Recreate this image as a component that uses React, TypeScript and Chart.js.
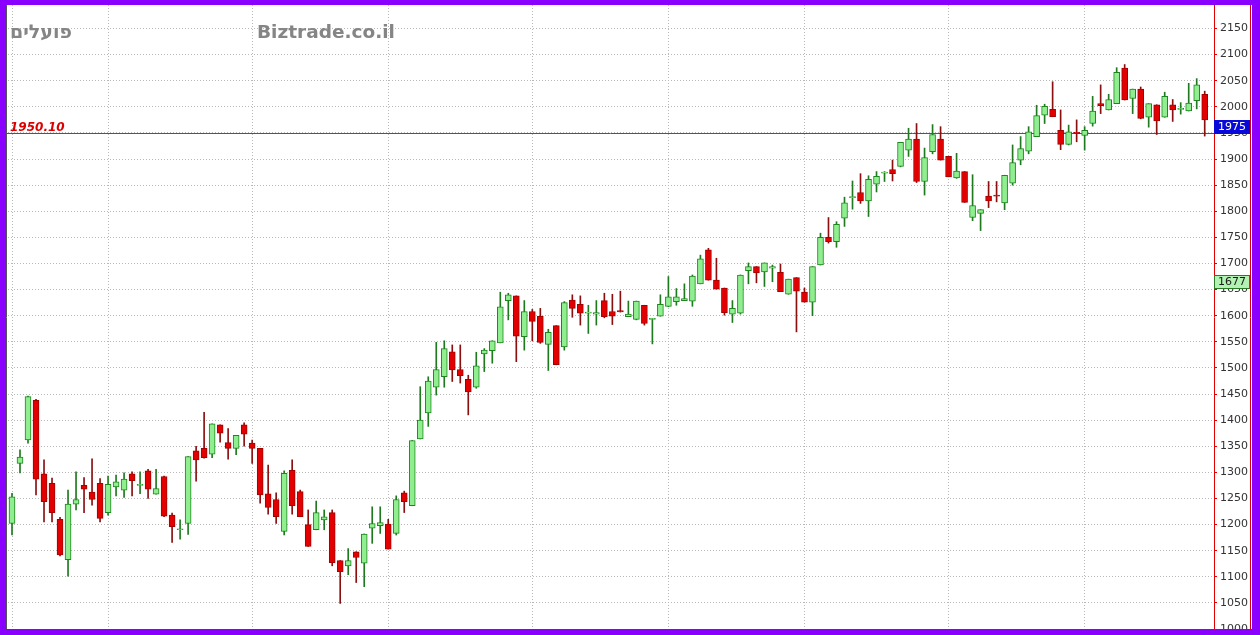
import React, { useEffect, useRef } from "react";
import { Chart, registerables } from "chart.js";

Chart.register(...registerables);

// ---- data ----
const opens = [
  1202, 1317, 1362, 1438, 1297, 1279, 1210, 1133, 1239, 1275,
  1262, 1279, 1223, 1272, 1266, 1297, 1275, 1303, 1258, 1292,
  1218, 1190, 1202, 1341, 1346, 1335, 1391, 1357, 1346, 1391,
  1356, 1346, 1259, 1248, 1187, 1304, 1263, 1200, 1190, 1209,
  1223, 1131, 1121, 1148, 1126, 1193, 1198, 1201, 1183, 1261,
  1236, 1364, 1414, 1463, 1483, 1531, 1497, 1478, 1463, 1527,
  1533, 1548, 1629, 1638, 1560, 1608, 1599, 1545, 1581, 1540,
  1630, 1622, 1605, 1603, 1629, 1608, 1610, 1598, 1593, 1620,
  1593, 1599, 1618, 1627, 1629, 1628, 1661, 1726, 1668, 1653,
  1603, 1605, 1686, 1694, 1684, 1691, 1683, 1641, 1673, 1645,
  1626, 1697, 1750, 1742, 1787, 1826, 1836, 1820, 1852, 1873,
  1880, 1886, 1917, 1938, 1857, 1914, 1938, 1905, 1864, 1876,
  1788, 1796, 1829, 1831, 1816, 1854, 1898, 1915, 1943, 1984,
  1995, 1955, 1928, 1951, 1945, 1968, 2006, 1994, 2006, 2074,
  2016, 2034, 1980, 2004, 1980, 2004, 1995, 1992, 2012, 2024,
];
const highs = [
  1260, 1343, 1446, 1440, 1324, 1289, 1214, 1266, 1301, 1290,
  1326, 1288, 1293, 1295, 1299, 1301, 1301, 1306, 1306, 1293,
  1222, 1209, 1330, 1350, 1415, 1393, 1391, 1384, 1371, 1395,
  1362, 1346, 1314, 1261, 1303, 1324, 1266, 1228, 1245, 1228,
  1228, 1131, 1154, 1148, 1182, 1234, 1234, 1210, 1255, 1264,
  1361, 1464, 1483, 1549, 1552, 1544, 1544, 1486, 1530, 1537,
  1552, 1645, 1643, 1638, 1629, 1612, 1614, 1574, 1581, 1627,
  1640, 1638, 1620, 1629, 1643, 1641, 1647, 1628, 1628, 1620,
  1595, 1640, 1675, 1652, 1661, 1678, 1716, 1729, 1710, 1653,
  1629, 1678, 1701, 1694, 1701, 1697, 1699, 1670, 1673, 1653,
  1694, 1758, 1788, 1780, 1827, 1858, 1872, 1868, 1876, 1876,
  1898, 1932, 1959, 1968, 1921, 1966, 1962, 1905, 1911, 1876,
  1870, 1803, 1857, 1857, 1869, 1927, 1943, 1962, 2003, 2005,
  2048, 1994, 1965, 1975, 1962, 2020, 2042, 2024, 2075, 2081,
  2034, 2038, 2006, 2004, 2028, 2014, 2008, 2045, 2054, 2030,
];
const lows = [
  1180, 1299, 1356, 1257, 1205, 1205, 1140, 1101, 1228, 1223,
  1237, 1205, 1218, 1255, 1252, 1255, 1259, 1250, 1258, 1215,
  1166, 1172, 1181, 1283, 1327, 1328, 1358, 1325, 1334, 1350,
  1317, 1241, 1220, 1202, 1180, 1220, 1215, 1158, 1190, 1190,
  1121, 1049, 1104, 1089, 1081, 1164, 1183, 1153, 1180, 1223,
  1236, 1364, 1388, 1448, 1463, 1474, 1471, 1410, 1461, 1493,
  1509, 1548, 1592, 1512, 1534, 1552, 1547, 1495, 1506, 1534,
  1597, 1582, 1566, 1582, 1596, 1583, 1607, 1598, 1592, 1582,
  1546, 1599, 1617, 1620, 1629, 1618, 1661, 1668, 1651, 1601,
  1587, 1603, 1661, 1663, 1656, 1665, 1646, 1641, 1569, 1626,
  1600, 1697, 1739, 1731, 1771, 1804, 1815, 1790, 1837, 1857,
  1858, 1885, 1905, 1855, 1831, 1910, 1898, 1866, 1863, 1817,
  1782, 1763, 1807, 1818, 1803, 1850, 1889, 1910, 1943, 1968,
  1981, 1918, 1927, 1933, 1917, 1963, 1987, 1994, 2006, 2013,
  1987, 1977, 1961, 1947, 1980, 1972, 1986, 1992, 1996, 1944,
];
const closes = [
  1253, 1329, 1445, 1287, 1244, 1223, 1142, 1239, 1248, 1268,
  1248, 1212, 1277, 1282, 1287, 1284, 1277, 1268, 1269, 1216,
  1196, 1192, 1330, 1324, 1328, 1393, 1375, 1346, 1371, 1373,
  1346, 1257, 1233, 1215, 1298, 1236, 1215, 1158, 1223, 1215,
  1127, 1110, 1131, 1137, 1182, 1202, 1204, 1153, 1248, 1244,
  1361, 1400, 1475, 1497, 1537, 1496, 1485, 1454, 1504, 1534,
  1552, 1617, 1640, 1561, 1608, 1589, 1549, 1568, 1506, 1625,
  1614, 1605, 1607, 1606, 1598, 1599, 1607, 1603, 1628, 1585,
  1595, 1622, 1636, 1636, 1633, 1676, 1709, 1668, 1651, 1606,
  1614, 1678, 1694, 1682, 1701, 1694, 1646, 1670, 1647, 1626,
  1694, 1750, 1742, 1775, 1816, 1828, 1820, 1861, 1867, 1875,
  1872, 1932, 1938, 1857, 1903, 1947, 1898, 1866, 1877, 1817,
  1811, 1803, 1820, 1829, 1869, 1893, 1920, 1952, 1983, 2001,
  1981, 1928, 1952, 1949, 1955, 1992, 2002, 2014, 2066, 2013,
  2034, 1978, 2006, 1973, 2020, 1994, 1997, 2007, 2042, 1975,
];
const monthStarts = [0, 12, 30, 47, 65, 82, 99, 117, 134];
const refLevel = 1950.1;
const refLabel = "1950.10";
const lastPrice = 1975;
const markerPrice = 1677;
const yMin = 1000;
const yMax = 2195;
const yStep = 50;
const titleHeb = "פועלים";
const titleSite = "Biztrade.co.il";

const UP_FILL = "#90ee90";
const UP_LINE = "#1c861c";
const DN_FILL = "#e30000";
const DN_LINE = "#a30000";

export default function App() {
  const ref = useRef<HTMLCanvasElement | null>(null);

  useEffect(() => {
    const canvas = ref.current;
    if (!canvas) return;
    const up = closes.map((c, i) => c >= opens[i]);
    const bodies = closes.map((c, i) => {
      let lo = Math.min(c, opens[i]);
      let hi = Math.max(c, opens[i]);
      if (hi - lo < 2) {
        const m = (hi + lo) / 2;
        lo = m - 1;
        hi = m + 1;
      }
      return { x: i, y: [lo, hi] };
    });
    const wicks = closes.map((_, i) => ({ x: i, y: [lows[i], highs[i]] }));

    const overlay = {
      id: "overlay",
      beforeDatasetsDraw(chart: any) {
        const { ctx, chartArea, scales } = chart;
        const y = Math.round(scales.y.getPixelForValue(refLevel)) + 0.5;
        ctx.save();
        ctx.strokeStyle = "#555555";
        ctx.lineWidth = 1;
        ctx.beginPath();
        ctx.moveTo(chartArea.left - 1, y);
        ctx.lineTo(chartArea.right, y);
        ctx.stroke();
        ctx.fillStyle = "#dd0000";
        ctx.font = "italic bold 12px 'DejaVu Sans'";
        ctx.textBaseline = "alphabetic";
        ctx.textAlign = "left";
        ctx.fillText(refLabel, 10, y - 3);
        ctx.fillStyle = "#858585";
        ctx.font = "bold 19px 'DejaVu Sans'";
        ctx.fillText(titleHeb, 10, 38);
        ctx.font = "bold 18.5px 'DejaVu Sans'";
        ctx.fillText(titleSite, 257, 38);
        ctx.restore();
      },
      afterDraw(chart: any) {
        const { ctx, chartArea, scales } = chart;
        const W = chart.width;
        const H = chart.height;
        ctx.save();
        const drawBox = (v: number, fill: string, stroke: string, txt: string) => {
          const top = Math.round(scales.y.getPixelForValue(v));
          ctx.fillStyle = fill;
          ctx.fillRect(chartArea.right, top, 36, 14);
          ctx.strokeStyle = stroke;
          ctx.lineWidth = 1;
          ctx.strokeRect(chartArea.right + 0.5, top + 0.5, 35, 13);
          ctx.fillStyle = txt;
          ctx.font = "11px 'DejaVu Sans'";
          ctx.textAlign = "left";
          ctx.textBaseline = "middle";
          ctx.fillText(String(v), chartArea.right + 4, top + 7.5);
        };
        drawBox(lastPrice, "#0a0ad8", "#0a0ad8", "#ffffff");
        drawBox(markerPrice, "#b2f2b2", "#2a7a2a", "#1a1a1a");
        ctx.strokeStyle = "#e00000";
        ctx.lineWidth = 1;
        ctx.beginPath();
        ctx.moveTo(1250.5, 0);
        ctx.lineTo(1250.5, H);
        ctx.stroke();
        ctx.strokeStyle = "#555555";
        ctx.beginPath();
        ctx.moveTo(6.5, 0);
        ctx.lineTo(6.5, H);
        ctx.stroke();
        ctx.fillStyle = "#8a00ff";
        ctx.fillRect(0, 0, W, 5);
        ctx.fillRect(0, H - 6, W, 6);
        ctx.fillRect(0, 0, 6, H);
        ctx.fillRect(1252, 0, W - 1252, H);
        ctx.restore();
      },
    };

    const chart = new Chart(canvas, {
      type: "bar",
      data: {
        datasets: [
          {
            type: "bar",
            data: bodies as any,
            backgroundColor: up.map((u) => (u ? UP_FILL : DN_FILL)),
            borderColor: up.map((u) => (u ? UP_LINE : DN_LINE)),
            borderWidth: 1,
            borderSkipped: false,
            barThickness: 6,
            grouped: false,
            order: 0,
          } as any,
          {
            type: "bar",
            data: wicks as any,
            backgroundColor: up.map((u) => (u ? "#1f7a1f" : "#8a1010")),
            borderWidth: 0,
            barThickness: 1,
            grouped: false,
            order: 1,
          } as any,
        ],
      },
      options: {
        animation: false,
        responsive: false,
        maintainAspectRatio: false,
        layout: { padding: { top: 5, bottom: 6, left: 8, right: 0 } },
        plugins: { legend: { display: false }, tooltip: { enabled: false } },
        scales: {
          x: {
            type: "linear",
            min: -0.5,
            max: 150.16,
            offset: false,
            afterBuildTicks: (s: any) => {
              s.ticks = monthStarts.map((v) => ({ value: v }));
            },
            afterFit: (s: any) => {
              s.height = 0;
              s.paddingLeft = 0;
              s.paddingRight = 0;
            },
            ticks: { display: false },
            grid: { color: "#b8b8b8", drawTicks: false, lineWidth: 1, offset: false },
            border: { display: false, dash: [1, 2] },
          },
          y: {
            position: "right",
            min: yMin,
            max: yMax,
            afterFit: (s: any) => {
              s.width = 46;
              s.paddingTop = 0;
              s.paddingBottom = 0;
            },
            ticks: {
              stepSize: yStep,
              includeBounds: false,
              autoSkip: false,
              color: "#333333",
              padding: 3,
              font: { family: "'DejaVu Sans'", size: 11 },
              callback: (v: any) => String(v),
            },
            grid: { color: "#b8b8b8", tickColor: "#e00000", tickLength: 3, lineWidth: 1 },
            border: { color: "#e00000", width: 1, dash: [1, 2] },
          },
        },
      } as any,
      plugins: [overlay],
    });
    return () => chart.destroy();
  }, []);

  return (
    <div style={{ position: "fixed", left: 0, top: 0, width: 1260, height: 635, background: "#ffffff" }}>
      <canvas ref={ref} width={1260} height={635} />
    </div>
  );
}
